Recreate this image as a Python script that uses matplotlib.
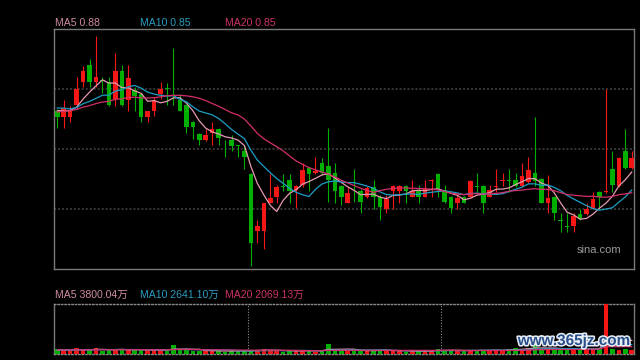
import numpy as np
import pandas as pd
import matplotlib
matplotlib.use('Agg')
import matplotlib.pyplot as plt
import matplotlib.patheffects as pe

# daily k-line data (price), 90 sessions
opens = [0.969, 0.960, 0.960, 0.978, 1.012, 1.038, 1.012, 1.015, 1.012, 0.986,
         1.028, 0.985, 1.000, 0.994, 0.960, 0.969, 0.994, 1.003, 0.987, 0.985,
         0.978, 0.952, 0.934, 0.925, 0.935, 0.942, 0.924, 0.925, 0.917, 0.908,
         0.874, 0.789, 0.789, 0.831, 0.840, 0.856, 0.865, 0.850, 0.857, 0.883,
         0.875, 0.890, 0.886, 0.875, 0.856, 0.831, 0.849, 0.848, 0.840, 0.855,
         0.840, 0.822, 0.849, 0.849, 0.856, 0.840, 0.848, 0.840, 0.864, 0.874,
         0.850, 0.840, 0.831, 0.840, 0.840, 0.856, 0.856, 0.840, 0.855, 0.864,
         0.865, 0.865, 0.856, 0.862, 0.875, 0.866, 0.831, 0.840, 0.805, 0.796,
         0.796, 0.814, 0.814, 0.822, 0.847, 0.847, 0.882, 0.856, 0.908, 0.883]
closes = [0.960, 0.973, 0.969, 1.002, 1.028, 1.012, 1.020, 1.014, 0.978, 1.028,
          0.978, 1.018, 0.991, 0.960, 0.968, 0.984, 1.001, 1.002, 0.986, 0.969,
          0.944, 0.944, 0.925, 0.932, 0.941, 0.928, 0.923, 0.916, 0.916, 0.900,
          0.771, 0.796, 0.830, 0.838, 0.854, 0.855, 0.849, 0.856, 0.880, 0.874,
          0.878, 0.875, 0.865, 0.849, 0.840, 0.845, 0.848, 0.832, 0.853, 0.840,
          0.824, 0.836, 0.856, 0.856, 0.848, 0.848, 0.840, 0.853, 0.865, 0.852,
          0.832, 0.823, 0.838, 0.831, 0.864, 0.855, 0.831, 0.850, 0.856, 0.865,
          0.864, 0.856, 0.871, 0.880, 0.864, 0.831, 0.838, 0.815, 0.804, 0.795,
          0.811, 0.806, 0.821, 0.836, 0.840, 0.848, 0.858, 0.898, 0.883, 0.898]
highs = [0.972, 0.985, 0.976, 1.020, 1.036, 1.046, 1.081, 1.020, 1.020, 1.055,
         1.038, 1.038, 1.004, 0.996, 0.969, 0.990, 1.012, 1.011, 1.063, 0.994,
         0.979, 0.954, 0.936, 0.942, 0.952, 0.943, 0.925, 0.932, 0.918, 0.916,
         0.876, 0.805, 0.831, 0.874, 0.858, 0.874, 0.874, 0.858, 0.890, 0.885,
         0.900, 0.898, 0.943, 0.890, 0.858, 0.855, 0.882, 0.851, 0.856, 0.865,
         0.842, 0.842, 0.857, 0.857, 0.857, 0.865, 0.858, 0.865, 0.866, 0.876,
         0.858, 0.841, 0.842, 0.841, 0.865, 0.875, 0.858, 0.858, 0.882, 0.875,
         0.882, 0.875, 0.891, 0.900, 0.960, 0.868, 0.873, 0.841, 0.815, 0.815,
         0.815, 0.822, 0.831, 0.847, 0.848, 1.002, 0.908, 0.900, 0.942, 0.909]
lows = [0.943, 0.943, 0.952, 0.972, 1.004, 1.004, 1.004, 0.996, 0.976, 0.976,
        0.976, 0.969, 0.968, 0.952, 0.952, 0.961, 0.986, 0.978, 0.978, 0.968,
        0.935, 0.926, 0.918, 0.924, 0.918, 0.918, 0.900, 0.908, 0.900, 0.882,
        0.736, 0.770, 0.762, 0.830, 0.831, 0.849, 0.831, 0.823, 0.855, 0.848,
        0.874, 0.872, 0.832, 0.831, 0.827, 0.830, 0.832, 0.815, 0.838, 0.822,
        0.805, 0.815, 0.822, 0.831, 0.831, 0.839, 0.831, 0.839, 0.840, 0.840,
        0.831, 0.815, 0.822, 0.830, 0.839, 0.847, 0.815, 0.839, 0.847, 0.856,
        0.847, 0.854, 0.855, 0.861, 0.856, 0.830, 0.815, 0.805, 0.787, 0.787,
        0.787, 0.805, 0.813, 0.821, 0.822, 0.846, 0.847, 0.855, 0.882, 0.882]
# volume in 万
volumes = [1300, 1100, 900, 1600, 1200, 1100, 1700, 900, 1200, 1300,
           1400, 1100, 1000, 1300, 1000, 1100, 1200, 900, 2600, 1000,
           1300, 900, 800, 800, 900, 1000, 700, 900, 800, 1000,
           1200, 900, 1300, 1000, 900, 700, 900, 800, 1200, 900,
           700, 900, 2700, 1300, 1000, 900, 800, 1100, 900, 1000,
           1100, 1000, 900, 800, 700, 900, 800, 900, 1000, 1300,
           1000, 1100, 900, 800, 1200, 1000, 1200, 900, 1100, 1000,
           1400, 1600, 1500, 1700, 2400, 1300, 1500, 1400, 1100, 1071.6,
           1500, 1300, 1600, 1500, 1510.8, 14000, 1400, 1100, 1300, 1200.2]
# sessions before the visible window (only feed the moving averages)
prior_close = [0.950, 0.955, 0.962, 0.958, 0.966, 0.960, 0.968, 0.957, 0.963, 0.971,
               0.975, 0.982, 0.979, 0.972, 0.977, 0.974, 0.968, 0.975, 0.968]
prior_vol = [1100, 1200, 1000, 1300, 1100, 1200, 1000, 1100, 1300, 1200,
             1100, 1000, 1200, 1300, 1100, 1200, 1000, 1100, 1200]

RED = '#f51616'
GREEN = '#00b000'
C5, C10, C20 = '#e69ab2', '#1c9fc4', '#d2306a'
T5, T10, T20 = '#d08aa0', '#2a9cc0', '#cc3366'

n = len(closes)
x = np.arange(n)
o = np.array(opens); c = np.array(closes)
h = np.array(highs); l = np.array(lows)
up = c >= o
colors = np.where(up, RED, GREEN)

cs = pd.Series(prior_close + closes)
ma5 = cs.rolling(5).mean().values[-n:]
ma10 = cs.rolling(10).mean().values[-n:]
ma20 = cs.rolling(20).mean().values[-n:]
vs = pd.Series(prior_vol + volumes)
vma5 = vs.rolling(5).mean().values[-n:]
vma10 = vs.rolling(10).mean().values[-n:]
vma20 = vs.rolling(20).mean().values[-n:]

fig = plt.figure(figsize=(6.4, 3.6), dpi=100, facecolor='black')
ax = fig.add_axes([54/640, 91/360, 580/640, 240/360], facecolor='black')
axv = fig.add_axes([54/640, 6/360, 580/640, 50/360], facecolor='black')

ylo, yhi = 0.7315, 1.0915
ax.set_xlim(-0.51, n - 0.65)
ax.set_ylim(ylo, yhi)
for i in (1, 2, 3):
    ax.axhline(ylo + i * (yhi - ylo) / 4, color='#3a3a3a', lw=1.3,
               ls=(0, (1.1, 1.1)), zorder=0)

ax.vlines(x, l, h, colors=colors, lw=0.8, zorder=2)
body = np.maximum(np.abs(c - o), 0.0012)
ax.bar(x, body, bottom=np.minimum(o, c), width=0.7, color=colors, zorder=3)

ax.plot(x, ma5, color=C5, lw=0.9, zorder=4)
ax.plot(x, ma10, color=C10, lw=0.9, zorder=4)
ax.plot(x, ma20, color=C20, lw=0.9, zorder=4)

for a in (ax, axv):
    a.set_xticks([]); a.set_yticks([])
    for s in a.spines.values():
        s.set_color('#7a7a7a')
        s.set_linewidth(1.0)

ax.text(0.978, 0.08, 'sina.com', transform=ax.transAxes, ha='right', va='center',
        color='#9a9a9a', fontsize=8, family='Liberation Sans')

# volume panel
axv.set_xlim(-0.51, n - 0.65)
axv.set_ylim(0, max(volumes))
axv.bar(x, volumes, width=0.7, color=colors, zorder=3)
axv.plot(x, vma5, color=C5, lw=0.9, zorder=4)
axv.plot(x, vma10, color=C10, lw=0.9, zorder=4)
axv.plot(x, vma20, color=C20, lw=0.9, zorder=4)
for xv in (29.5, 59.5):
    axv.axvline(xv, color='#8a8a8a', lw=0.8, ls=(0, (1, 1.5)), zorder=1)
for s in ('top', 'bottom'):
    axv.spines[s].set_linestyle((0, (1, 1.5)))
    axv.spines[s].set_color('#8a8a8a')

fam = ['Liberation Sans', 'Noto Sans CJK SC']
fs = 7.6
fig.text(55/640, 1 - 23/360, f'MA5 {ma5[-1]:.2f}', color=T5, fontsize=fs, family=fam, va='center')
fig.text(140/640, 1 - 23/360, f'MA10 {ma10[-1]:.2f}', color=T10, fontsize=fs, family=fam, va='center')
fig.text(225/640, 1 - 23/360, f'MA20 {ma20[-1]:.2f}', color=T20, fontsize=fs, family=fam, va='center')
fig.text(55/640, 1 - 295/360, f'MA5 {vma5[-1]:.2f}万', color=T5, fontsize=fs, family=fam, va='center')
fig.text(140/640, 1 - 295/360, f'MA10 {vma10[-1]:.2f}万', color=T10, fontsize=fs, family=fam, va='center')
fig.text(225/640, 1 - 295/360, f'MA20 {vma20[-1]:.2f}万', color=T20, fontsize=fs, family=fam, va='center')

# site watermark
fig.text(574/640, 1 - 341/360, 'www.365jz.com', color='#2a4f8a', fontsize=11,
         fontweight='bold', family='Liberation Sans', ha='center', va='center',
         path_effects=[pe.withStroke(linewidth=2.2, foreground='#e8eef6')])

fig.savefig('out.png', dpi=100, facecolor='black')
